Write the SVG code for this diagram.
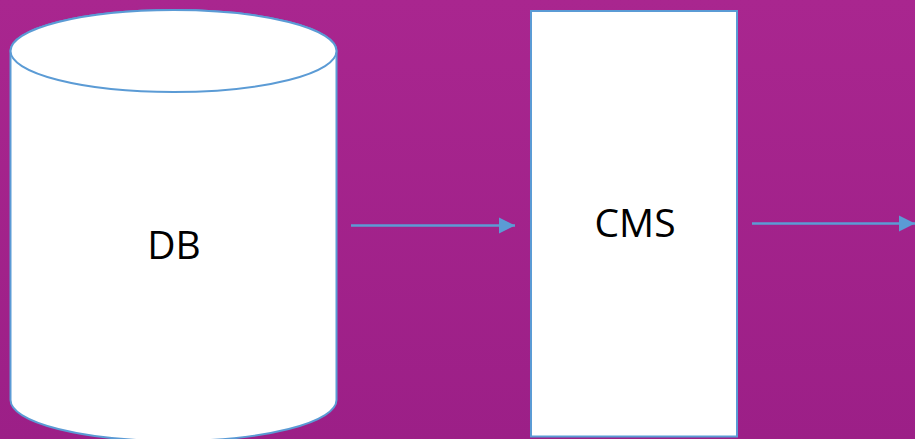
<svg xmlns="http://www.w3.org/2000/svg" width="915" height="439" viewBox="0 0 915 439">
<style>
.shape{fill:#FFFFFF;stroke:#5B9BD5;stroke-width:2}
.label{font-family:"Open Sans","Liberation Sans",sans-serif;font-size:39px;fill:#000000;text-anchor:middle}
.conn{stroke:#5B9BD5;stroke-width:2.5;fill:none}
</style>
<defs>
<linearGradient id="bg" x1="0" y1="0" x2="0" y2="1">
<stop offset="0" stop-color="#A9268F"/>
<stop offset="1" stop-color="#9C1F87"/>
</linearGradient>
<marker id="arr" viewBox="0 0 10 10" refX="10" refY="5" markerWidth="6.4" markerHeight="6.8" markerUnits="strokeWidth" orient="auto">
<path d="M0,0 L10,5 L0,10 Z" fill="#5B9BD5"/>
</marker>
</defs>
<rect x="0" y="0" width="915" height="439" fill="url(#bg)"/>
<g id="connectors">
<line class="conn" x1="351" y1="225.5" x2="515" y2="225.5" marker-end="url(#arr)"/>
<line class="conn" x1="752" y1="223.5" x2="915" y2="223.5" marker-end="url(#arr)"/>
</g>
<g id="db">
<path class="shape" d="M10.5,51 L10.5,400 A163,41 0 0 0 336.5,400 L336.5,51 A163,41 0 0 0 10.5,51 Z"/>
<ellipse class="shape" cx="173.5" cy="51" rx="163" ry="41"/>
<text class="label" x="174" y="259">DB</text>
</g>
<g id="cms">
<rect class="shape" x="531" y="11" width="206" height="425.5"/>
<text class="label" x="635" y="237">CMS</text>
</g>
</svg>
